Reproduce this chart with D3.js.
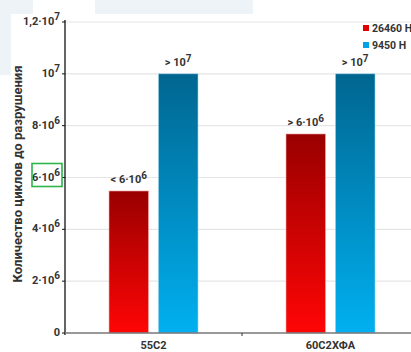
<!DOCTYPE html>
<html><head><meta charset="utf-8">
<script src="https://cdn.jsdelivr.net/npm/d3@7"></script>
<style>
body{margin:0;background:#fff;}
text{font-family:"Liberation Sans Narrow","Roboto",sans-serif;fill:#333;}
</style></head>
<body><svg id="c" width="411" height="352"></svg>
<script>
const categories = ["55С2", "60С2ХФА"];
const series = ["26460 Н", "9450 Н"];
const redValues = [5.48e6, 7.68e6];
const blueValues = [1e7, 1e7];
const valueLabels = [["< 6·10", "6"], ["> 10", "7"], ["> 6·10", "6"], ["> 10", "7"]];
const yTicks = [0, 2e6, 4e6, 6e6, 8e6, 1e7, 1.2e7];
const yTickLabels = [["0",""],["2·10","6"],["4·10","6"],["6·10","6"],["8·10","6"],["10","7"],["1,2·10","7"]];
const yTitle = "Количество циклов до разрушения";

(function(){
const svg = d3.select("#c");
svg.append("rect").attr("x",0).attr("y",0).attr("width",33).attr("height",14).attr("fill","#eef3f8");
svg.append("rect").attr("x",95).attr("y",0).attr("width",158).attr("height",14).attr("fill","#eef3f8");
svg.append("rect").attr("x",0).attr("y",0).attr("width",11).attr("height",75).attr("fill","#eef3f8");

const defs = svg.append("defs");
const gr = defs.append("linearGradient").attr("id","gr").attr("x1",0).attr("y1",0).attr("x2",0).attr("y2",1);
gr.append("stop").attr("offset","0%").attr("stop-color","#990000");
gr.append("stop").attr("offset","100%").attr("stop-color","#ff0505");
const gb = defs.append("linearGradient").attr("id","gb").attr("x1",0).attr("y1",0).attr("x2",0).attr("y2",1);
gb.append("stop").attr("offset","0%").attr("stop-color","#006690");
gb.append("stop").attr("offset","100%").attr("stop-color","#00b0f0");

const mLeft = 65, mTop = 22, mBottom = 333;
const y = d3.scaleLinear().domain([0, 1.2e7]).range([mBottom, mTop]);
const x = d3.scaleBand().domain(categories).range([mLeft, mLeft + 354]).padding(0);
const xs = d3.scaleBand().domain(series).range([44, 133]).paddingInner(0.2);

svg.append("g").selectAll("line").data(yTicks.slice(1)).join("line")
  .attr("x1",mLeft).attr("x2",411).attr("y1",d=>y(d)).attr("y2",d=>y(d))
  .attr("stroke","#e6e6e6").attr("stroke-width",1.2);

const data = [];
categories.forEach((c,i)=>{
  data.push({c, s:series[0], v:redValues[i], fill:"url(#gr)", stroke:"#f5b0b0"});
  data.push({c, s:series[1], v:blueValues[i], fill:"url(#gb)", stroke:"#9fd4ec"});
});
svg.append("g").selectAll("rect").data(data).join("rect")
  .attr("x",d=>x(d.c)+xs(d.s)).attr("width",xs.bandwidth())
  .attr("y",d=>y(d.v)).attr("height",d=>mBottom-y(d.v))
  .attr("fill",d=>d.fill).attr("stroke",d=>d.stroke).attr("stroke-width",0.6);

const vl = svg.append("g").selectAll("text").data(data).join("text")
  .attr("x",d=>x(d.c)+xs(d.s)+xs.bandwidth()/2).attr("y",d=>y(d.v)-8)
  .attr("text-anchor","middle").attr("font-size",11).attr("font-weight","bold");
vl.each(function(d,i){
  const t = d3.select(this);
  t.append("tspan").text(valueLabels[i][0]);
  t.append("tspan").attr("dy",-4).attr("font-size",10).text(valueLabels[i][1]);
});

svg.append("line").attr("x1",mLeft).attr("x2",mLeft).attr("y1",mTop-2).attr("y2",mBottom+2)
  .attr("stroke","#111").attr("stroke-width",1.3);
svg.append("g").selectAll("line").data(yTicks).join("line")
  .attr("x1",mLeft-3).attr("x2",mLeft).attr("y1",d=>y(d)).attr("y2",d=>y(d))
  .attr("stroke","#111");
const yl = svg.append("g").selectAll("text").data(yTicks).join("text")
  .attr("x",mLeft-5).attr("y",d=>y(d)+3).attr("text-anchor","end")
  .attr("font-size",11).attr("font-weight","bold");
yl.each(function(d,i){
  const t = d3.select(this);
  t.append("tspan").text(yTickLabels[i][0]);
  if (yTickLabels[i][1]) t.append("tspan").attr("dy",-5).attr("font-size",10).text(yTickLabels[i][1]);
});

svg.append("rect").attr("x",32).attr("y",y(6e6)-14).attr("width",30).attr("height",23)
  .attr("fill","none").attr("stroke","#2bb54a").attr("stroke-width",1.6);

svg.append("line").attr("x1",mLeft).attr("x2",411).attr("y1",mBottom).attr("y2",mBottom)
  .attr("stroke","#777").attr("stroke-width",1.4);
svg.append("line").attr("x1",x(categories[1])).attr("x2",x(categories[1])).attr("y1",mBottom).attr("y2",mBottom+3).attr("stroke","#333");
svg.append("g").selectAll("text").data(categories).join("text")
  .attr("x",d=>x(d)+x.bandwidth()/2).attr("y",mBottom+16).attr("text-anchor","middle")
  .attr("font-size",11).attr("font-weight","bold").text(d=>d);

svg.append("text").attr("transform","translate(22,174) rotate(-90)")
  .attr("text-anchor","middle").attr("font-size",13).attr("font-weight","bold").text(yTitle);

const lg = svg.append("g").selectAll("g").data(series).join("g")
  .attr("transform",(d,i)=>`translate(363,${25+i*17})`);
lg.append("rect").attr("width",6).attr("height",6).attr("fill",(d,i)=>i?"#00a2e8":"#e00000");
lg.append("text").attr("x",9).attr("y",6.5).attr("font-size",10.5).attr("font-weight","bold").text(d=>d);
})();
</script></body></html>
